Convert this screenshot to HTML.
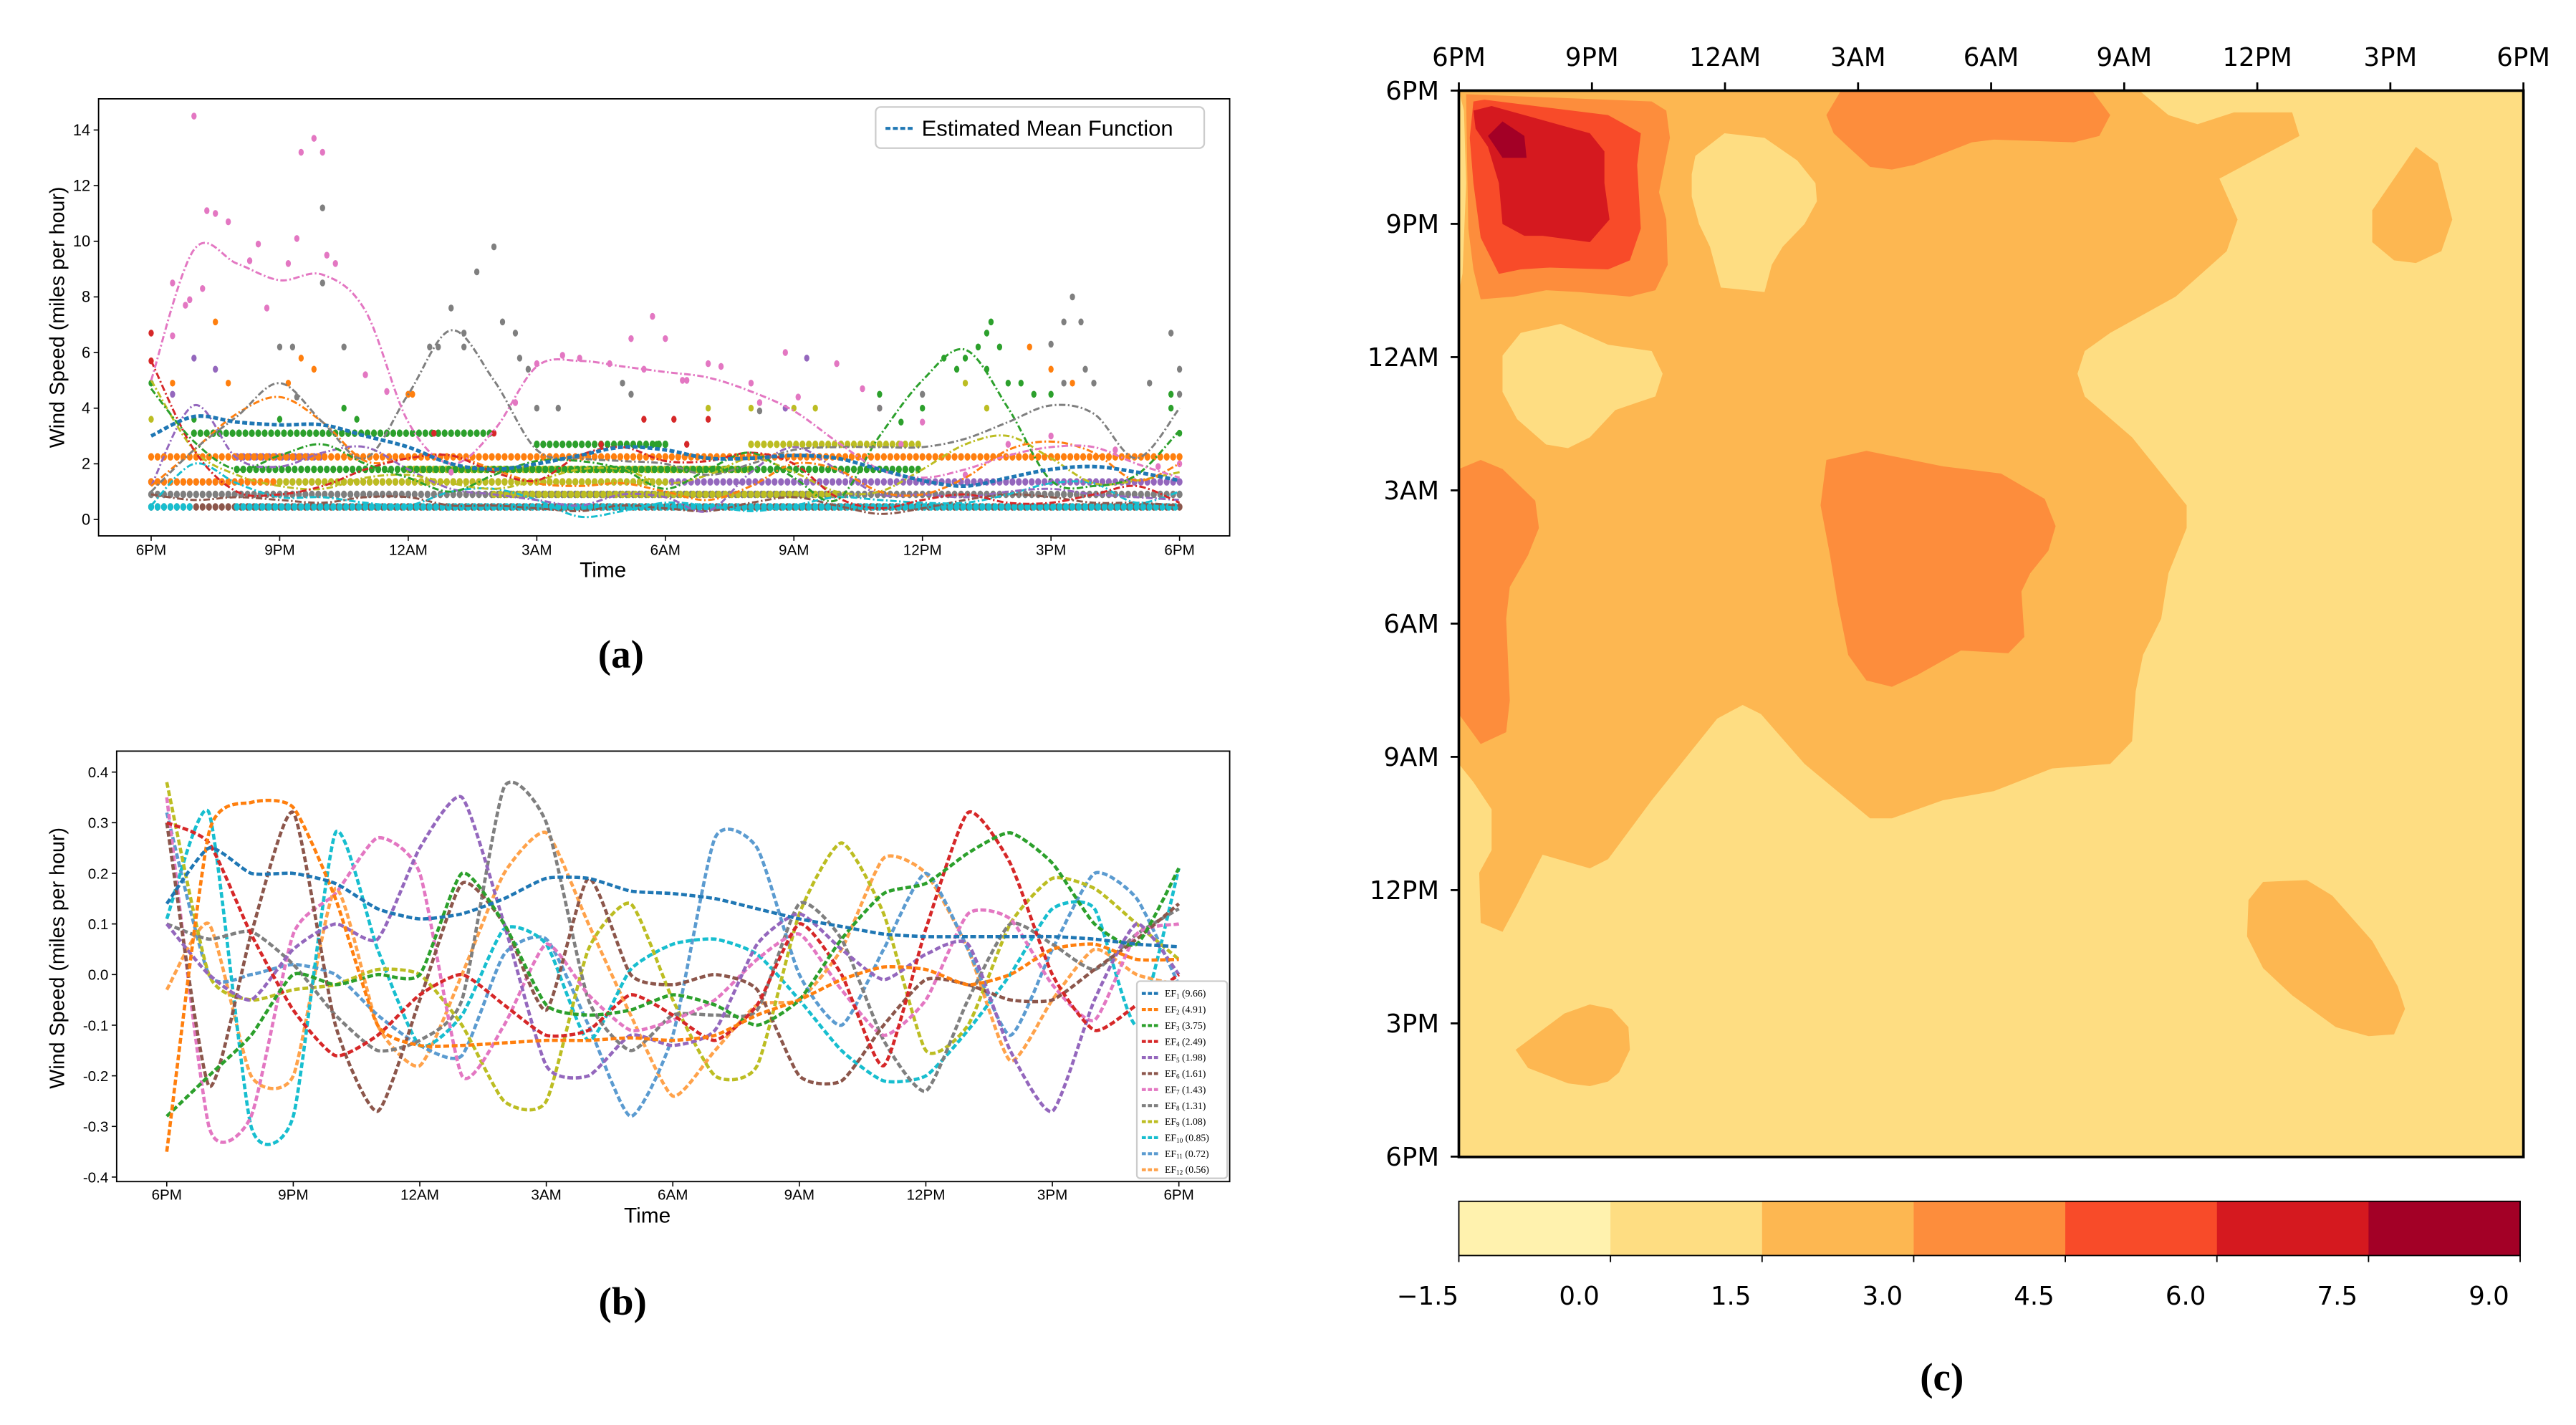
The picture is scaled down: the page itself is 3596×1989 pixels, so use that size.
<!DOCTYPE html>
<html><head><meta charset="utf-8">
<style>
html,body{margin:0;padding:0;background:#fff;}
svg{display:block;font-family:"Liberation Sans",sans-serif;}
</style></head>
<body>
<svg id="fig" xmlns="http://www.w3.org/2000/svg" width="3596" height="1989" viewBox="0 0 1568 867">
<rect x="0" y="0" width="1568" height="867" fill="#fff"/>
<g id="pa"></g>
<g id="pb"></g>
<g id="pc"></g>
</svg>
<script>
// ---------- Panel (a) data ----------
const hoursA = [0,1,2,3,4,5,6,7,8,9,10,11,12,13,14,15,16,17,18,19,20,21,22,23,24];
const tickLabels = ["6PM","9PM","12AM","3AM","6AM","9AM","12PM","3PM","6PM"];
const yTicksA = [0,2,4,6,8,10,12,14];
const meanA = [3.0,3.7,3.5,3.4,3.4,3.0,2.6,2.0,1.8,2.0,2.3,2.6,2.5,2.2,2.2,2.3,2.2,1.8,1.4,1.2,1.5,1.8,1.9,1.7,1.4];
const pinkA = [5.0,9.7,9.2,8.6,8.8,7.5,3.5,2.0,3.2,5.5,5.7,5.5,5.3,5.1,4.6,3.9,2.8,1.8,1.5,1.8,2.3,2.6,2.6,2.0,1.5];
const grayA = [1.0,2.5,3.7,4.9,3.5,2.2,4.5,6.8,5.0,2.5,2.2,2.1,2.0,1.6,2.0,2.5,2.6,2.6,2.6,2.9,3.5,4.1,3.8,2.2,4.0];
const greenA = [4.7,2.8,1.8,2.3,2.7,2.0,1.5,1.0,1.6,2.1,2.1,1.8,1.1,1.8,2.4,1.5,0.7,3.0,5.0,6.1,4.0,1.4,1.2,1.6,3.2];
const orangeA = [1.2,2.5,3.8,4.4,3.5,2.1,2.2,2.3,1.8,1.3,1.2,1.3,1.0,0.7,1.2,2.0,1.8,1.0,0.9,1.5,2.5,2.8,2.4,1.4,2.0];
const redA = [5.7,2.5,1.0,0.9,1.2,1.8,2.2,2.3,1.7,1.4,2.3,2.6,2.1,2.1,2.4,2.0,0.8,0.4,0.7,0.9,0.6,0.6,0.9,1.2,0.6];
const purpleA = [1.2,4.1,2.2,1.9,2.4,2.6,1.8,1.1,0.9,0.7,0.5,0.9,0.8,0.3,1.7,2.6,1.8,0.9,0.9,0.8,1.0,1.1,0.9,0.8,0.7];
const brownA = [0.9,0.7,0.8,0.7,0.6,0.8,0.8,0.5,0.5,0.4,0.3,0.5,0.4,0.3,0.6,0.8,0.5,0.2,0.4,0.7,0.9,0.8,0.6,0.6,0.5];
const oliveA = [5.0,2.5,1.6,1.2,1.1,1.5,1.6,1.3,1.1,1.4,1.8,1.8,1.3,1.6,2.2,1.7,1.0,1.0,1.8,2.7,3.0,2.2,1.3,1.4,1.7];
const cyanA = [0.5,2.0,1.3,0.8,0.8,0.6,0.5,1.0,1.1,0.7,0.1,0.3,0.6,0.5,0.3,0.5,0.8,0.7,0.6,0.6,0.9,1.3,1.3,0.6,1.0];
// dot runs: [startHour, endHour, level]
const runsBrown = [[0,24,0.45]];
const runsCyan = [[2,24,0.45],[0,1,0.45]];
const runsGray = [[0,24,0.9]];
const runsOlive = [[8,16,0.9],[3,12,1.35],[6,14,1.8],[14,18,2.7]];
const runsPurple = [[0,24,1.35],[2,4,2.25]];
const runsOrange = [[0,10,1.35],[0,24,2.25]];
const runsGreen = [[2,18,1.8],[9,12,2.7],[1,8,3.1]];
const ptsPink = [[1,14.5],[1.3,11.1],[1.5,11],[1.8,10.7],[2.5,9.9],[2.3,9.3],[3.2,9.2],[3.5,13.2],[3.8,13.7],[4,13.2],[4.1,9.5],[4.3,9.2],[1.2,8.3],[0.8,7.7],[0.9,7.9],[0.5,8.5],[0.5,6.6],[2.7,7.6],[3.4,10.1],[5,5.2],[5.5,4.6],[7,1.7],[8.5,4.2],[9,5.6],[9.6,5.9],[10,5.8],[10.7,5.6],[11.2,6.5],[11.7,7.3],[12,6.5],[12.4,5.0],[13,5.6],[14,4.9],[14.2,4.2],[13.3,5.5],[14.8,6.0],[15.1,4.4],[16,5.6],[16.6,4.7],[17,4.0],[18,3.5],[19,1.6],[20,2.7],[21,3.0],[22.5,2.5],[23.5,1.9],[24,2.0],[17.5,2.7],[12.5,5.0],[11.5,5.4]];
const ptsGray = [[3,6.2],[3.3,6.2],[3.4,4.4],[4,8.5],[4,11.2],[4.5,6.2],[6,4.5],[6.5,6.2],[6.7,6.2],[7,7.6],[7.3,6.7],[7.3,6.2],[7.6,8.9],[8,9.8],[8.2,7.1],[8.5,6.7],[8.6,5.8],[8.8,5.4],[9,4.0],[9.5,4.0],[11,4.9],[11.2,4.5],[14.2,3.9],[17,4.0],[18,4.5],[21,6.3],[21.5,8.0],[21.3,7.1],[21.7,7.1],[21.8,5.4],[22,4.9],[23.3,4.9],[23.8,6.7],[24,5.4],[24,4.5],[21.3,4.9]];
const ptsGreen = [[18.5,5.8],[18.8,5.4],[19,5.8],[19.3,6.2],[19.5,6.7],[19.6,7.1],[19.8,6.2],[19.5,5.4],[20,4.9],[20.3,4.9],[20.6,4.5],[21,4.5],[17,4.5],[18,4.0],[17.5,3.5],[24,3.1],[23.8,4.5],[23.8,4.0],[0,4.9],[1,3.6],[3,3.6],[4.5,4.0],[4.8,3.6],[11.8,2.7],[12,2.7]];
const ptsOrange = [[0.5,4.9],[1.5,7.1],[1.8,4.9],[3.2,4.9],[3.5,5.8],[3.8,5.4],[6,4.5],[6.1,4.5],[20.5,6.2],[21,5.4],[21.5,4.9]];
const ptsRed = [[0,6.7],[0,5.7],[11.5,3.6],[12.2,3.6],[13,3.6],[8,3.1],[6.6,3.1],[12.5,2.7],[10.5,2.7]];
const ptsPurple = [[1,5.8],[0.5,4.5],[1.5,5.4],[15.3,5.8],[14.8,4.0]];
const ptsOlive = [[0,3.6],[15,4.0],[15.5,4.0],[14,4.0],[13,4.0],[19.5,4.0],[19,4.9]];

// ---------- Panel (b) data ----------
const yTicksB = [-0.4,-0.3,-0.2,-0.1,0.0,0.1,0.2,0.3,0.4];
const efNames = ["EF1","EF2","EF3","EF4","EF5","EF6","EF7","EF8","EF9","EF10","EF11","EF12"];
const efVar = ["9.66","4.91","3.75","2.49","1.98","1.61","1.43","1.31","1.08","0.85","0.72","0.56"];
const ef1 = [0.14,0.25,0.2,0.2,0.18,0.13,0.11,0.12,0.15,0.19,0.19,0.165,0.16,0.15,0.13,0.11,0.095,0.08,0.075,0.075,0.075,0.075,0.07,0.06,0.055];
const ef2 = [-0.35,0.28,0.34,0.33,0.15,-0.10,-0.14,-0.14,-0.135,-0.13,-0.13,-0.125,-0.13,-0.12,-0.08,-0.05,-0.01,0.015,0.01,-0.02,0.0,0.05,0.06,0.03,0.03];
const ef3 = [-0.28,-0.2,-0.12,0.0,-0.02,0.0,0.0,0.2,0.1,-0.06,-0.08,-0.07,-0.04,-0.06,-0.1,-0.05,0.07,0.16,0.18,0.24,0.28,0.22,0.1,0.06,0.21];
const ef4 = [0.3,0.26,0.08,-0.07,-0.16,-0.12,-0.04,0.0,-0.06,-0.12,-0.11,-0.04,-0.08,-0.13,-0.06,0.1,0.0,-0.18,0.09,0.32,0.22,0.0,-0.11,-0.06,0.0];
const ef5 = [0.1,0.0,-0.05,0.05,0.1,0.07,0.25,0.35,0.1,-0.18,-0.2,-0.12,-0.14,-0.11,0.06,0.12,0.05,-0.01,0.04,0.06,-0.15,-0.27,-0.05,0.1,0.0];
const ef6 = [0.3,-0.22,0.08,0.32,-0.1,-0.27,-0.05,0.18,0.1,-0.07,0.19,0.0,-0.02,0.0,-0.03,-0.2,-0.21,-0.1,-0.01,-0.02,-0.05,-0.05,0.01,0.07,0.14];
const ef7 = [0.35,-0.3,-0.28,0.08,0.16,0.27,0.2,-0.2,-0.1,0.06,-0.04,-0.11,-0.09,-0.05,0.03,0.08,-0.03,-0.12,-0.05,0.12,0.11,-0.02,-0.09,0.08,0.1];
const ef8 = [0.1,0.07,0.085,0.02,-0.08,-0.15,-0.13,-0.05,0.37,0.3,-0.05,-0.15,-0.08,-0.08,-0.07,0.14,0.07,-0.13,-0.23,-0.05,0.1,0.06,0.01,0.08,0.13];
const ef9 = [0.38,0.0,-0.05,-0.03,-0.02,0.01,0.0,-0.1,-0.25,-0.25,0.05,0.14,-0.05,-0.2,-0.18,0.12,0.26,0.12,-0.15,-0.1,0.1,0.19,0.17,0.1,0.03];
const ef10 = [0.11,0.32,-0.3,-0.28,0.28,0.05,-0.14,-0.08,0.09,0.06,-0.13,0.01,0.06,0.07,0.04,-0.05,-0.15,-0.21,-0.2,-0.11,0.0,0.13,0.13,-0.1,0.21];
const ef11 = [0.32,0.0,0.0,0.02,0.0,-0.08,-0.14,-0.16,0.04,0.07,-0.1,-0.28,-0.12,0.27,0.25,0.0,-0.1,0.05,0.2,0.05,-0.12,0.05,0.2,0.15,-0.02];
const ef12 = [-0.03,0.1,-0.2,-0.2,0.17,-0.1,-0.18,0.0,0.2,0.28,0.1,-0.08,-0.24,-0.15,-0.06,-0.05,0.05,0.23,0.2,0.05,-0.17,-0.05,0.05,0.0,-0.02];

// ---------- Panel (c) data (contour polygons on field grid 1463 x 1175 = 24h x 24h) ----------
const cbarLevels = ["\u22121.5","0.0","1.5","3.0","4.5","6.0","7.5","9.0"];
const cLevel3 = [[35,98],[970,98],[1010,125],[1050,135],[1100,122],[1180,122],[1190,148],[1080,195],[1105,240],[1090,275],[1020,325],[930,365],[895,385],[885,410],[895,435],[960,480],[1035,555],[1035,580],[1010,630],[1000,680],[975,720],[965,760],[960,815],[930,840],[850,845],[770,870],[700,880],[630,900],[600,900],[510,840],[450,785],[425,775],[390,790],[350,830],[300,880],[240,945],[215,955],[150,940],[115,995],[95,1025],[65,1015],[63,960],[80,935],[80,890],[55,860],[35,840]];
const cHole1 = [[360,170],[400,145],[455,150],[500,175],[525,200],[527,220],[510,245],[480,270],[465,290],[455,320],[395,315],[380,270],[365,245],[355,215],[355,190]];
const cHole2 = [[95,390],[120,365],[175,355],[240,378],[300,385],[315,410],[305,435],[250,450],[215,480],[185,492],[155,488],[115,460],[95,430]];
const cBlobTR = [[1290,230],[1350,160],[1380,178],[1400,240],[1385,275],[1350,288],[1320,285],[1290,265]];
const cBlobBR = [[1120,990],[1140,970],[1200,968],[1235,985],[1290,1035],[1325,1085],[1335,1110],[1320,1138],[1285,1140],[1240,1130],[1180,1095],[1140,1065],[1118,1030]];
const cBlobBL = [[113,1155],[180,1115],[215,1105],[245,1110],[268,1130],[270,1155],[255,1180],[240,1190],[215,1195],[185,1192],[130,1175]];
const cEdgeL = [[35,98],[42,120],[45,200],[40,300],[35,320]];
const cL45Top = [[540,125],[560,98],[905,98],[930,125],[915,148],[880,155],[770,152],[740,155],[660,180],[630,185],[600,182],[570,160],[550,145]];
const cL45Mid = [[540,505],[595,495],[700,512],[780,520],[840,548],[855,578],[845,605],[820,630],[808,650],[812,700],[790,718],[725,715],[665,742],[630,755],[595,748],[570,720],[555,660],[545,610],[532,555]];
const cL45Left = [[35,515],[65,505],[95,515],[140,550],[145,580],[130,610],[105,645],[100,680],[105,770],[100,805],[65,818],[35,785]];
const cL45TL = [[45,102],[300,110],[320,120],[325,150],[310,210],[320,240],[322,290],[305,318],[270,325],[200,320],[155,318],[110,325],[65,328],[55,295],[48,250],[46,160]];
const cL6 = [[55,110],[70,108],[240,125],[285,145],[280,180],[285,250],[270,285],[240,295],[160,293],[120,295],[90,300],[65,260],[55,200],[50,150]];
const cL75 = [[55,120],[80,115],[215,145],[235,165],[235,200],[242,240],[215,265],[150,258],[125,258],[95,245],[90,200],[75,160],[58,140]];
const cL9 = [[75,148],[95,132],[125,148],[128,172],[95,172]];

const NS = "http://www.w3.org/2000/svg";
function mk(parent, tag, attrs, text){
  const e = document.createElementNS(NS, tag);
  for (const k in attrs) e.setAttribute(k, attrs[k]);
  if (text !== undefined) e.textContent = text;
  parent.appendChild(e);
  return e;
}
function smoothPath(pts, t){
  const f = t || 6;
  let d = "M"+pts[0][0].toFixed(2)+","+pts[0][1].toFixed(2);
  for (let i=0;i<pts.length-1;i++){
    const p0=pts[Math.max(0,i-1)], p1=pts[i], p2=pts[i+1], p3=pts[Math.min(pts.length-1,i+2)];
    const c1=[p1[0]+(p2[0]-p0[0])/f, p1[1]+(p2[1]-p0[1])/f];
    const c2=[p2[0]-(p3[0]-p1[0])/f, p2[1]-(p3[1]-p1[1])/f];
    d += " C"+c1[0].toFixed(2)+","+c1[1].toFixed(2)+" "+c2[0].toFixed(2)+","+c2[1].toFixed(2)+" "+p2[0].toFixed(2)+","+p2[1].toFixed(2);
  }
  return d;
}
const tabColors = ["#1f77b4","#ff7f0e","#2ca02c","#d62728","#9467bd","#8c564b","#e377c2","#7f7f7f","#bcbd22","#17becf","#5b9bd0","#ffa24a"];

// ================= Panel A =================
const pa = document.getElementById("pa");
const xa = h => 92 + h*26.083;
const ya = v => 316 - v*16.93;
const fontCond = '"Liberation Sans Narrow","Liberation Sans",sans-serif';
let fa = mk(pa,"rect",{x:60,y:60,width:688.5,height:266,fill:"#fff",stroke:"#000","stroke-width":0.8});


function dotsRuns(runs,color,name){
  const g = mk(pa,"g",{fill:color});
  
  
  runs.forEach(r=>{ for(let h=r[0]; h<=r[1]+1e-9; h+=0.15){ mk(g,"ellipse",{cx:xa(h).toFixed(2),cy:ya(r[2]).toFixed(2),rx:1.8,ry:2.3}); } });
}
function dotsPts(pts,color,name){
  const g = mk(pa,"g",{fill:color});
  
  
  pts.forEach(p=>{ mk(g,"ellipse",{cx:xa(p[0]).toFixed(2),cy:ya(p[1]).toFixed(2),rx:1.6,ry:2.1}); });
}
dotsRuns(runsBrown,"#8c564b","brown-dots");
dotsRuns(runsCyan,"#17becf","cyan-dots");
dotsRuns(runsGray,"#7f7f7f","gray-dots");
dotsRuns(runsPurple,"#9467bd","purple-dots");
dotsRuns(runsOrange,"#ff7f0e","orange-dots");
dotsRuns(runsOlive,"#bcbd22","olive-dots");
dotsRuns(runsGreen,"#2ca02c","green-dots");
dotsPts(ptsPink,"#e377c2","pink-outlier-dots");
dotsPts(ptsGray,"#7f7f7f","gray-outlier-dots");
dotsPts(ptsGreen,"#2ca02c","green-outlier-dots");
dotsPts(ptsOrange,"#ff7f0e","orange-outlier-dots");
dotsPts(ptsRed,"#d62728","red-outlier-dots");
dotsPts(ptsPurple,"#9467bd","purple-outlier-dots");
dotsPts(ptsOlive,"#bcbd22","olive-outlier-dots");
const seriesA = [[brownA,"#8c564b","brown-curve"],[cyanA,"#17becf","cyan-curve"],[purpleA,"#9467bd","purple-curve"],[oliveA,"#bcbd22","olive-curve"],[orangeA,"#ff7f0e","orange-curve"],[redA,"#d62728","red-curve"],[greenA,"#2ca02c","green-curve"],[grayA,"#7f7f7f","gray-curve"],[pinkA,"#e377c2","pink-curve"]];
seriesA.forEach(s=>{
  const p = mk(pa,"path",{d:smoothPath(hoursA.map((h,i)=>[xa(h),ya(s[0][i])])),fill:"none",stroke:s[1],"stroke-width":1.3,"stroke-dasharray":"4,1.5,1,1.5"});
  
  
});
let mp = mk(pa,"path",{d:smoothPath(hoursA.map((h,i)=>[xa(h),ya(meanA[i])])),fill:"none",stroke:"#1f77b4","stroke-width":2.2,"stroke-dasharray":"3,1.5"});


yTicksA.forEach(v=>{
  mk(pa,"line",{x1:57,x2:60,y1:ya(v),y2:ya(v),stroke:"#000","stroke-width":0.7});
  const t = mk(pa,"text",{x:55,y:ya(v)+3.2,"text-anchor":"end","font-size":9.5,"font-family":fontCond},String(v));
  
  
});
tickLabels.forEach((lab,i)=>{
  const x = xa(i*3);
  mk(pa,"line",{x1:x,x2:x,y1:326,y2:329,stroke:"#000","stroke-width":0.7});
  const t = mk(pa,"text",{x:x,y:337.5,"text-anchor":"middle","font-size":9,"font-family":fontCond},lab);
  
  
});
let xt = mk(pa,"text",{x:367,y:351,"text-anchor":"middle","font-size":13},"Time");


let yt = mk(pa,"text",{x:0,y:0,"text-anchor":"middle","font-size":12.5,transform:"translate(39,193) rotate(-90)"},"Wind Speed (miles per hour)");


const lgA = mk(pa,"g",{});


mk(lgA,"rect",{x:533,y:65,width:200,height:25,rx:3,fill:"#fff",stroke:"#ccc","stroke-width":1});
mk(lgA,"line",{x1:539,x2:557,y1:78,y2:78,stroke:"#1f77b4","stroke-width":1.8,"stroke-dasharray":"3,1.5"});
let lgt = mk(lgA,"text",{x:561,y:82.5,"font-size":13.5,"font-family":fontCond},"Estimated Mean Function");


let la = mk(pa,"text",{x:378,y:406,"text-anchor":"middle","font-size":24,"font-weight":"bold","font-family":'"Liberation Serif",serif'},"(a)");



// ================= Panel B =================
const pb = document.getElementById("pb");
const xb = h => 101.5 + h*25.67;
const yb = v => 593 - v*308.1;
let fb = mk(pb,"rect",{x:71,y:457,width:677.5,height:262,fill:"#fff",stroke:"#000","stroke-width":0.8});


const efSeries = [ef1,ef2,ef3,ef4,ef5,ef6,ef7,ef8,ef9,ef10,ef11,ef12];
for (let k=efSeries.length-1;k>=0;k--){
  const p = mk(pb,"path",{d:smoothPath(hoursA.map((h,i)=>[xb(h),yb(efSeries[k][i])]),10),fill:"none",stroke:tabColors[k],"stroke-width":2.0,"stroke-dasharray":"3.5,1.6"});
  
  
}
yTicksB.forEach(v=>{
  mk(pb,"line",{x1:68,x2:71,y1:yb(v),y2:yb(v),stroke:"#000","stroke-width":0.7});
  const t = mk(pb,"text",{x:66,y:yb(v)+3.2,"text-anchor":"end","font-size":9,"font-family":fontCond},v.toFixed(1));
  
  
});
tickLabels.forEach((lab,i)=>{
  const x = xb(i*3);
  mk(pb,"line",{x1:x,x2:x,y1:719,y2:722,stroke:"#000","stroke-width":0.7});
  const t = mk(pb,"text",{x:x,y:730,"text-anchor":"middle","font-size":9,"font-family":fontCond},lab);
  
  
});
let xtb = mk(pb,"text",{x:394,y:744,"text-anchor":"middle","font-size":13},"Time");


let ytb = mk(pb,"text",{x:0,y:0,"text-anchor":"middle","font-size":12.5,transform:"translate(39,583) rotate(-90)"},"Wind Speed (miles per hour)");


const lgB = mk(pb,"g",{});


mk(lgB,"rect",{x:692,y:597,width:55,height:120,rx:2,fill:"#fff",stroke:"#ccc","stroke-width":1});
efNames.forEach((n,i)=>{
  const y = 604.5 + i*9.75;
  mk(lgB,"line",{x1:695,x2:706,y1:y,y2:y,stroke:tabColors[i],"stroke-width":1.8,"stroke-dasharray":"2.5,1.2"});
  const t = mk(lgB,"text",{x:709,y:y+2,"font-size":6,"font-family":'"Liberation Serif",serif'});
  
  
  mk(t,"tspan",{},"EF");
  mk(t,"tspan",{"font-size":4,dy:1},n.slice(2));
  mk(t,"tspan",{dy:-1}," ("+efVar[i]+")");
});
let lb = mk(pb,"text",{x:379,y:800,"text-anchor":"middle","font-size":24,"font-weight":"bold","font-family":'"Liberation Serif",serif'},"(b)");



// ================= Panel C =================
const pc = document.getElementById("pc");
const xh = gx => 888 + (gx-35)*0.443;
const yh = gy => 55 + (gy-98)*0.5523;
const polyD = pts => "M"+pts.map(p=>xh(p[0]).toFixed(2)+","+yh(p[1]).toFixed(2)).join(" L")+" Z";
const cols = ["#fff2ae","#fedd82","#fdb751","#fd8d3c","#f84b29","#d5191f","#a30026"];
let bg = mk(pc,"rect",{x:888,y:55,width:648,height:649,fill:cols[1]});


const layers = [
  [cLevel3,cols[2],"contour-1p5-3"],[cBlobTR,cols[2],"contour-blob-top-right"],[cBlobBR,cols[2],"contour-blob-bottom-right"],[cBlobBL,cols[2],"contour-blob-bottom-left"],
  [cHole1,cols[1],"contour-hole-1"],[cHole2,cols[1],"contour-hole-2"],[cEdgeL,cols[1],"contour-left-edge-strip"],
  [cL45Top,cols[3],"contour-3-4p5-top"],[cL45Mid,cols[3],"contour-3-4p5-center"],[cL45Left,cols[3],"contour-3-4p5-left"],[cL45TL,cols[3],"contour-3-4p5-topleft"],
  [cL6,cols[4],"contour-4p5-6"],[cL75,cols[5],"contour-6-7p5"],[cL9,cols[6],"contour-7p5-9"]];
layers.forEach(L=>{
  const p = mk(pc,"path",{d:polyD(L[0]),fill:L[1]});
  
  
});
let fc = mk(pc,"rect",{x:888,y:55,width:648,height:649,fill:"none",stroke:"#000","stroke-width":1.6});


tickLabels.forEach((lab,i)=>{
  const x = 888 + i*81, y = 55 + i*81.1;
  mk(pc,"line",{x1:x,x2:x,y1:50,y2:55,stroke:"#000","stroke-width":1.2});
  const t1 = mk(pc,"text",{x:x,y:40,"text-anchor":"middle","font-size":15.5,"font-family":'"DejaVu Sans",sans-serif'},lab);
  
  
  mk(pc,"line",{x1:883,x2:888,y1:y,y2:y,stroke:"#000","stroke-width":1.2});
  const t2 = mk(pc,"text",{x:876,y:y+5.5,"text-anchor":"end","font-size":15.5,"font-family":'"DejaVu Sans",sans-serif'},lab);
  
  
});
const cb = mk(pc,"g",{});


const segW = 646/7;
cols.forEach((c,i)=>{ mk(cb,"rect",{x:888+i*segW,y:731,width:segW+0.3,height:33,fill:c}); });
mk(cb,"rect",{x:888,y:731,width:646,height:33,fill:"none",stroke:"#000","stroke-width":0.8});
cbarLevels.forEach((lab,i)=>{
  const x = 888 + i*segW;
  mk(cb,"line",{x1:x,x2:x,y1:764,y2:768,stroke:"#000","stroke-width":0.8});
  const t = mk(cb,"text",{x:x-19,y:794,"text-anchor":"middle","font-size":15.5,"font-family":'"DejaVu Sans",sans-serif'},lab);
  
  
});
let lc = mk(pc,"text",{x:1182,y:846,"text-anchor":"middle","font-size":24,"font-weight":"bold","font-family":'"Liberation Serif",serif'},"(c)");


</script>
</body></html>
